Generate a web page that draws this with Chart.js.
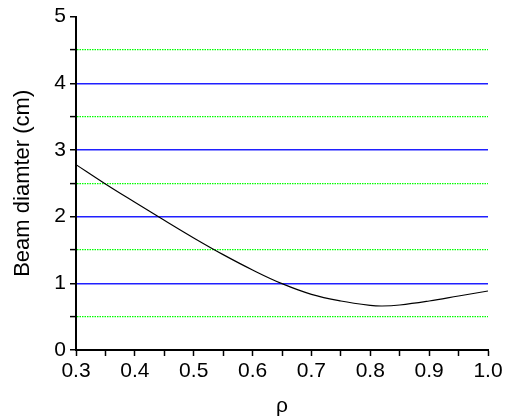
<!DOCTYPE html>
<html>
<head>
<meta charset="utf-8">
<script src="https://cdn.jsdelivr.net/npm/chart.js@4/dist/chart.umd.min.js"></script>
<style>
  html, body { margin: 0; padding: 0; background: #fff; }
  #wrap { width: 511px; height: 419px; }
</style>
</head>
<body>
<div id="wrap"><canvas id="myChart" width="511" height="419"></canvas></div>
<script>
// values
var rho = [0.30, 0.35, 0.40, 0.45, 0.50, 0.55, 0.60, 0.65, 0.70, 0.75, 0.80, 0.82, 0.85, 0.90, 0.95, 1.00];
var diameter = [2.78, 2.49, 2.215, 1.945, 1.68, 1.43, 1.20, 0.995, 0.835, 0.735, 0.67, 0.66, 0.675, 0.735, 0.81, 0.885];

var points = rho.map(function(r, i){ return {x: r, y: diameter[i]}; });

function isWhole(v, step){
    var q = v / step;
    return Math.abs(q - Math.round(q)) < 1e-6;
}

var ctx = document.getElementById("myChart").getContext("2d");

var beamChart = new Chart(ctx, {
    type: "scatter",
    data: {
        datasets: [{
            label: "Beam diameter",
            data: points,
            showLine: true,
            borderColor: "#000",
            borderWidth: 1.2,
            pointRadius: 0,
            tension: 0.4,
            fill: false
        }]
    },
    options: {
        responsive: false,
        animation: false,
        layout: { padding: { left: 0, right: 23, top: 16, bottom: 0 } },
        plugins: {
            legend: { display: false },
            tooltip: { enabled: false }
        },
        scales: {
            x: {
                type: "linear",
                min: 0.3,
                max: 1.0,
                afterFit: function(s){ s.height = 69; },
                ticks: {
                    stepSize: 0.05,
                    autoSkip: false,
                    maxRotation: 0,
                    padding: 3,
                    color: "#000",
                    font: { family: "'Liberation Sans', Arial", size: 21 },
                    callback: function(v){ return isWhole(v, 0.1) ? v.toFixed(1) : ""; }
                },
                grid: {
                    drawOnChartArea: false,
                    drawTicks: true,
                    tickLength: 6,
                    tickColor: "#000",
                    tickWidth: 1.5
                },
                border: { display: true, color: "#000", width: 2 },
                title: {
                    display: true,
                    text: "ρ",
                    color: "#000",
                    font: { family: "'Liberation Sans', Arial", size: 21 },
                    padding: { top: 10, bottom: 0 }
                }
            },
            y: {
                min: 0,
                max: 5,
                afterFit: function(s){ s.width = 76; },
                ticks: {
                    stepSize: 0.5,
                    autoSkip: false,
                    padding: 4,
                    color: "#000",
                    font: { family: "'Liberation Sans', Arial", size: 21 },
                    callback: function(v){ return isWhole(v, 1) ? String(Math.round(v)) : ""; }
                },
                grid: {
                    drawTicks: true,
                    tickLength: 6,
                    tickColor: "#000",
                    tickWidth: 1.5,
                    color: function(c){
                        if (!c.tick) return "rgba(0,0,0,0)";
                        var v = c.tick.value;
                        if (v <= 0 || v >= 5) return "rgba(0,0,0,0)";
                        return isWhole(v, 1) ? "#2020ff" : "#00ff00";
                    },
                    lineWidth: function(c){
                        if (!c.tick) return 1;
                        return isWhole(c.tick.value, 1) ? 1.5 : 1.2;
                    }
                },
                border: {
                    display: true,
                    color: "#000",
                    width: 2,
                    dash: function(c){
                        if (!c.tick) return [];
                        return isWhole(c.tick.value, 1) ? [] : [1.5, 1];
                    }
                },
                title: {
                    display: true,
                    text: "Beam diamter (cm)",
                    color: "#000",
                    font: { family: "'Liberation Sans', Arial", size: 22 },
                    padding: { top: 10, bottom: 0 }
                }
            }
        }
    }
});
</script>
</body>
</html>
